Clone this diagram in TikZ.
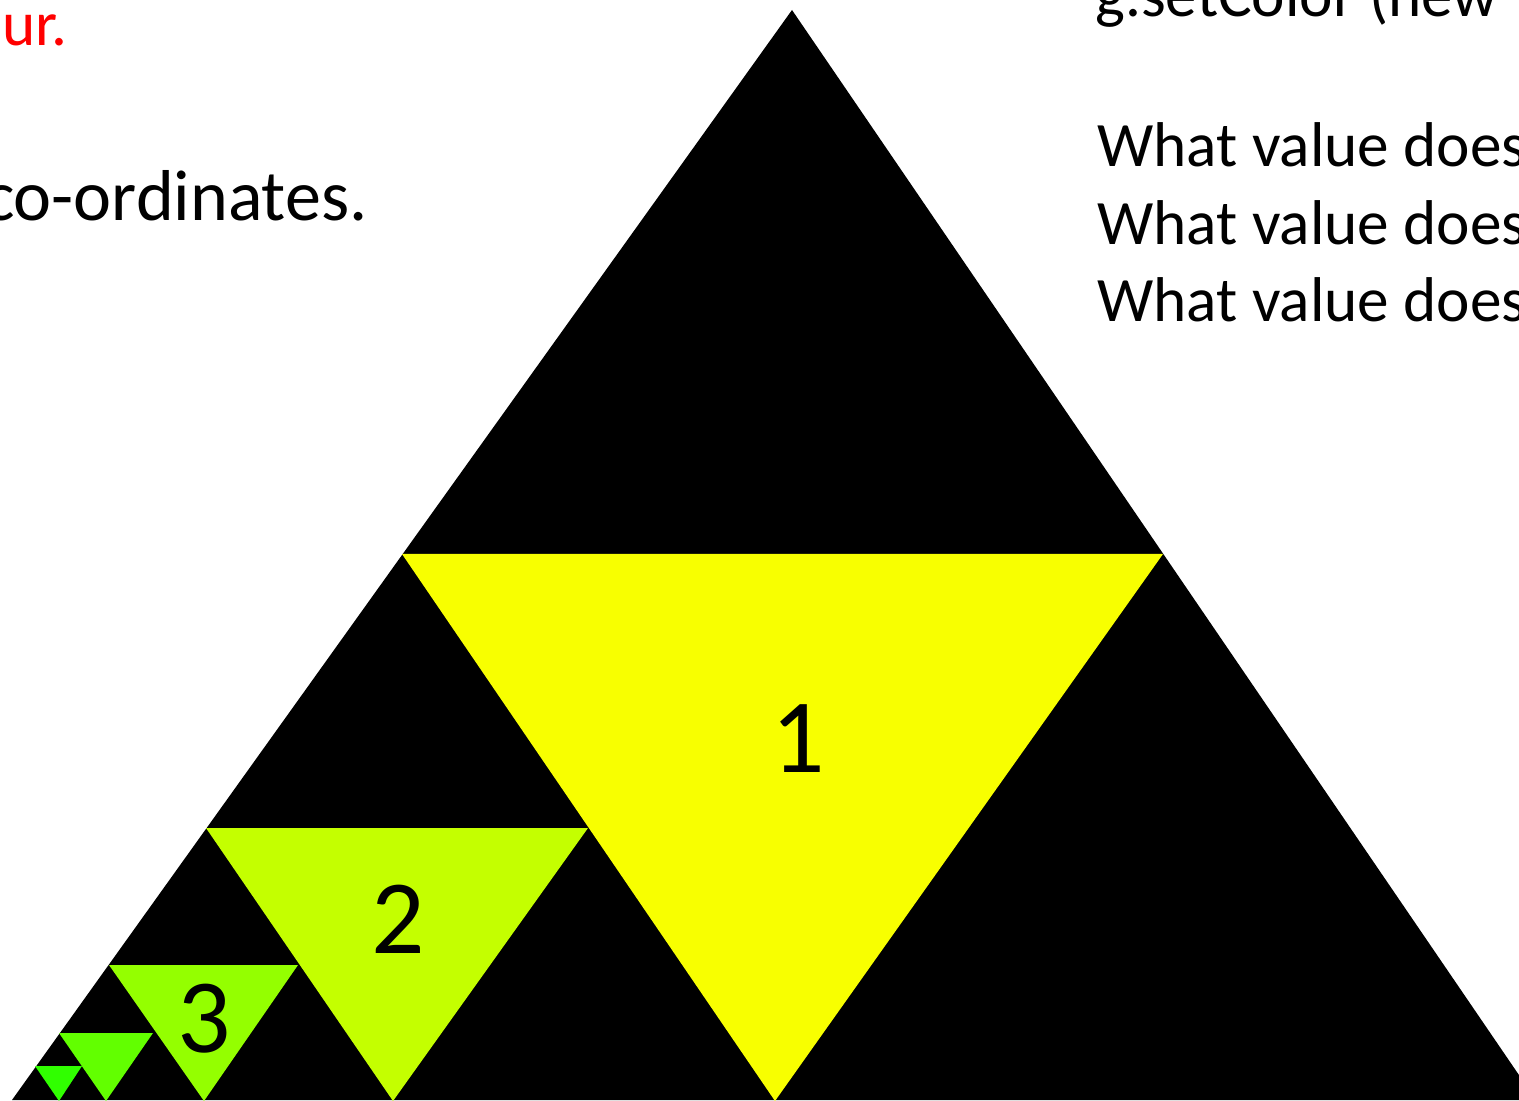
\documentclass[tikz,border=0pt]{standalone}
\usepackage{fontspec}
\setmainfont{Carlito}
\definecolor{lev1}{RGB}{248,255,0}
\definecolor{lev2}{RGB}{196,255,0}
\definecolor{lev3}{RGB}{148,255,0}
\definecolor{lev4}{RGB}{98,255,0}
\definecolor{lev5}{RGB}{48,255,0}
\tikzset{
  slidetext/.style={font=\fontsize{36}{44}\selectfont,inner sep=0pt},
  levelnum/.style={font=\fontsize{60}{72}\selectfont,inner sep=0pt,anchor=base}
}
\begin{document}
\begin{tikzpicture}[x=0.02cm,y=-0.02cm]
\useasboundingbox (0,0) rectangle (1519,1101);
% outer triangle
\coordinate (A) at (12,1100);
\coordinate (B) at (1536,1100);
\coordinate (C) at (792,10);
\fill[black] (A)--(B)--(C)--cycle;
% level 1
\coordinate (m1a) at (402,554);
\coordinate (m1b) at (1163,554);
\coordinate (m1c) at (775,1101);
\fill[lev1] (m1a)--(m1b)--(m1c)--cycle;
\node[levelnum] (n1) at (798,772) {1};
% level 2
\coordinate (m2a) at (206,828);
\coordinate (m2b) at (588,828);
\coordinate (m2c) at (393,1101);
\fill[lev2] (m2a)--(m2b)--(m2c)--cycle;
\node[levelnum] (n2) at (398,953) {2};
% level 3
\coordinate (m3a) at (109,965);
\coordinate (m3b) at (298,965);
\coordinate (m3c) at (204,1101);
\fill[lev3] (m3a)--(m3b)--(m3c)--cycle;
\node[levelnum] (n3) at (204,1052) {3};
% level 4 and 5
\coordinate (m4a) at (59,1033);
\coordinate (m4b) at (153,1033);
\coordinate (m4c) at (106,1101);
\fill[lev4] (m4a)--(m4b)--(m4c)--cycle;
\coordinate (m5a) at (35,1066);
\coordinate (m5b) at (82,1066);
\coordinate (m5c) at (59,1101);
\fill[lev5] (m5a)--(m5b)--(m5c)--cycle;
% slide text
\node[slidetext,text=red,anchor=base east] (t1) at (68,46) {ur.};
\node[slidetext,font=\fontsize{41}{49}\selectfont,anchor=base east] (t2) at (368,221) {co-ordinates.};
\node[slidetext,anchor=base west] (t3) at (1095,17) {g.setColor (new};
\node[slidetext,anchor=base west] (q1) at (1097,167) {What value does};
\node[slidetext,anchor=base west] (q2) at (1097,245) {What value does};
\node[slidetext,anchor=base west] (q3) at (1097,322) {What value does};
\end{tikzpicture}
\end{document}
